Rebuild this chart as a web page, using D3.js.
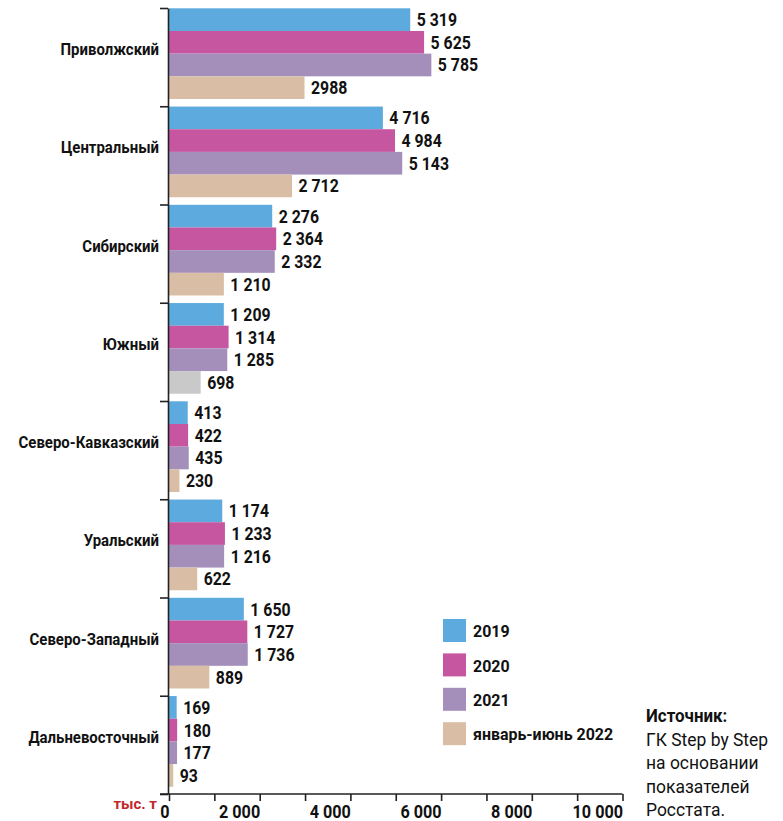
<!DOCTYPE html>
<html>
<head>
<meta charset="utf-8">
<script src="https://cdn.jsdelivr.net/npm/d3@7"></script>
<style>
  body { margin: 0; background: #fff; }
  text { font-family: Roboto, sans-serif; }
</style>
</head>
<body>
<svg id="chart" width="783" height="821"></svg>
<script>
// regions, top to bottom
const regions = ['Приволжский', 'Центральный', 'Сибирский', 'Южный',
    'Северо-Кавказский', 'Уральский', 'Северо-Западный', 'Дальневосточный'];

const seriesKeys = ['2019', '2020', '2021', '2022'];
const seriesNames = ['2019', '2020', '2021', 'январь-июнь 2022'];

// тыс. т
const values2019 = [5319, 4716, 2276, 1209, 413, 1174, 1650, 169];
const values2020 = [5625, 4984, 2364, 1314, 422, 1233, 1727, 180];
const values2021 = [5785, 5143, 2332, 1285, 435, 1216, 1736, 177];
const values2022 = [2988, 2712, 1210, 698, 230, 622, 889, 93];

const xTicks = d3.range(0, 10001, 1000);
const sourceLines = ['ГК Step by Step', 'на основании', 'показателей', 'Росстата.'];

const colors = { '2019': '#5daadf', '2020': '#c6569f', '2021': '#a48eba', '2022': '#d9bda4' };
const grayRegion = 'Южный'; // 2022 bar drawn grey in the original
const plainLabel = 'Приволжский'; // its 2022 label is printed without a space

// no condensed face installed, so squeeze Roboto a bit
const narrow = 0.88;
const squeeze = (px, py, s) => `translate(${px}, ${py}) scale(${s || narrow}, 1)`;

const svg = d3.select('#chart');
const fmt = d3.formatLocale({ thousands: ' ', grouping: [3], decimal: ',', currency: ['', ''] }).format(',d');

const seriesValues = [values2019, values2020, values2021, values2022];
const data = regions.map((r, i) => {
    const row = { region: r };
    seriesKeys.forEach((k, j) => { row[k] = seriesValues[j][i]; });
    return row;
});

const x = d3.scaleLinear().domain([0, 10000]).range([169, 622.5]);
const y = d3.scaleBand().domain(regions).range([8, 794]);
const y1 = d3.scaleBand().domain(seriesKeys).range([0.3, 91]);
const yLines = d3.scaleLinear().domain([0, regions.length]).range([8, 794]);

// bars
const groups = svg.append('g')
    .selectAll('g')
    .data(data)
    .enter().append('g')
    .attr('transform', d => `translate(0, ${y(d.region)})`);

groups.selectAll('rect')
    .data(d => seriesKeys.map(k => ({ region: d.region, key: k, value: d[k] })))
    .enter().append('rect')
    .attr('x', x(0))
    .attr('y', d => y1(d.key))
    .attr('width', d => x(d.value) - x(0))
    .attr('height', y1.bandwidth())
    .attr('fill', d => (d.key === '2022' && d.region === grayRegion) ? '#c9c9ca' : colors[d.key]);

groups.selectAll('text.value')
    .data(d => seriesKeys.map(k => ({ region: d.region, key: k, value: d[k] })))
    .enter().append('text')
    .attr('class', 'value')
    .attr('transform', d => squeeze(x(d.value) + 6.5, y1(d.key) + y1.bandwidth() / 2))
    .attr('dy', '0.36em')
    .attr('font-size', 18)
    .attr('font-weight', 'bold')
    .attr('fill', '#111')
    .text(d => (d.key === '2022' && d.region === plainLabel) ? String(d.value) : fmt(d.value));

// region labels
svg.append('g')
    .selectAll('text')
    .data(regions)
    .enter().append('text')
    .attr('transform', d => squeeze(159, y(d) + 47))
    .attr('text-anchor', 'end')
    .attr('font-size', 17)
    .attr('font-weight', 'bold')
    .attr('fill', '#111')
    .text(d => d);

// vertical axis with ticks between groups
const yAxis = d3.axisLeft(yLines)
    .tickValues(d3.range(regions.length + 1))
    .tickSize(8)
    .tickSizeOuter(0)
    .tickFormat('');

svg.append('g')
    .attr('class', 'y-axis')
    .attr('transform', 'translate(168, 0)')
    .call(yAxis)
    .call(g => g.selectAll('line, path').attr('stroke', '#222').attr('stroke-width', 1.6));

// horizontal axis
const xAxis = d3.axisBottom(x)
    .tickValues(xTicks)
    .tickSize(7)
    .tickSizeOuter(0)
    .tickFormat(d => d % 2000 ? '' : fmt(d));

const xg = svg.append('g')
    .attr('class', 'x-axis')
    .attr('transform', 'translate(0, 794)')
    .call(xAxis);

xg.select('.domain').remove();
xg.append('line')
    .attr('x1', 160)
    .attr('x2', x(10000))
    .attr('stroke', '#222')
    .attr('stroke-width', 1.6);
xg.selectAll('.tick line').attr('stroke', '#222').attr('stroke-width', 1.6);
xg.selectAll('.tick text')
    .attr('y', null)
    .attr('dy', null)
    .attr('transform', squeeze(0, 24, 0.9))
    .attr('text-anchor', 'end')
    .attr('font-size', 18)
    .attr('font-weight', 'bold')
    .attr('font-family', null)
    .attr('fill', '#111');

svg.append('text')
    .attr('x', 157)
    .attr('y', 809)
    .attr('text-anchor', 'end')
    .attr('font-size', 15)
    .attr('font-weight', 'bold')
    .attr('fill', '#c1272d')
    .text('тыс. т');

// legend
const legend = svg.append('g')
    .selectAll('g')
    .data(seriesKeys)
    .enter().append('g')
    .attr('transform', (d, i) => `translate(443, ${619 + i * 34.4})`);

legend.append('rect')
    .attr('width', 23)
    .attr('height', 23)
    .attr('fill', d => colors[d]);

legend.append('text')
    .attr('transform', squeeze(30, 12, 0.94))
    .attr('dy', '0.36em')
    .attr('font-size', 17)
    .attr('font-weight', 'bold')
    .attr('fill', '#111')
    .text((d, i) => seriesNames[i]);

// source note
svg.append('text')
    .attr('transform', squeeze(646, 722, 0.94))
    .attr('font-size', 18)
    .attr('font-weight', 'bold')
    .attr('fill', '#111')
    .text('Источник:');

svg.append('g')
    .selectAll('text')
    .data(sourceLines)
    .enter().append('text')
    .attr('transform', (d, i) => squeeze(646, 745.5 + i * 23.5, 0.97))
    .attr('font-size', 18)
    .attr('fill', '#111')
    .text(d => d);
</script>
</body>
</html>
